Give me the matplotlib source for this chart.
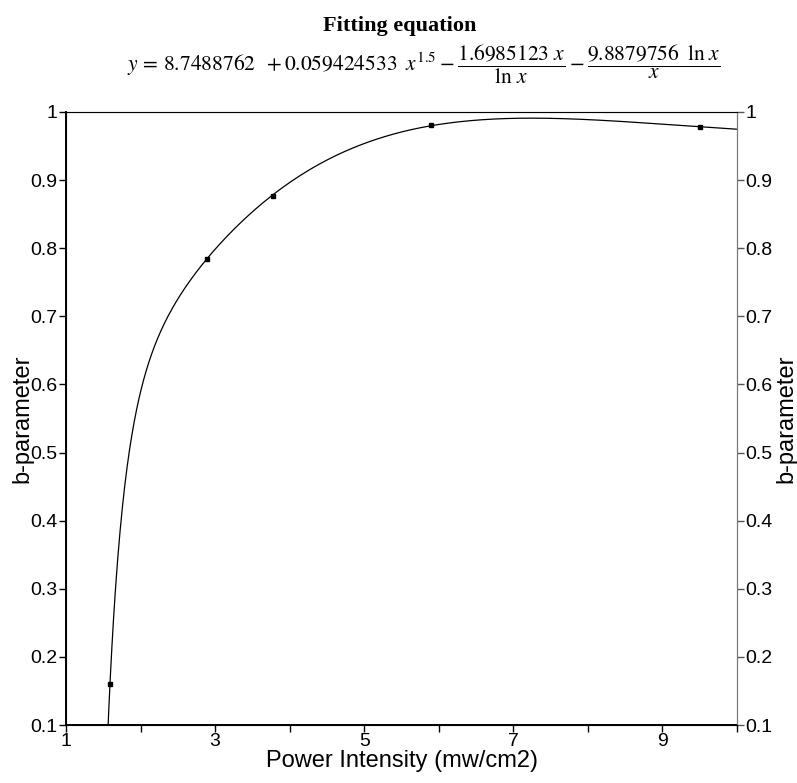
import numpy as np
import matplotlib
matplotlib.use("Agg")
import matplotlib.pyplot as plt

# measured points
x_pts = [1.59, 2.89, 3.78, 5.90, 9.51]
y_pts = [0.160, 0.784, 0.876, 0.981, 0.978]

# fitting coefficients shown in the chart
a, b, c, d = 8.7488762, 0.059424533, 1.6985123, 9.8879756

x_ticks = [1, 3, 5, 7, 9]
y_ticks = [0.1, 0.2, 0.3, 0.4, 0.5, 0.6, 0.7, 0.8, 0.9, 1]
y_labels = ["0.1", "0.2", "0.3", "0.4", "0.5", "0.6", "0.7", "0.8", "0.9", "1"]

plt.rcParams["font.family"] = ["Liberation Sans", "DejaVu Sans"]
plt.rcParams["mathtext.fontset"] = "stix"

fig = plt.figure(figsize=(7.97, 7.83), dpi=100)
ax = fig.add_axes([66 / 797, 58 / 783, 671 / 797, 613 / 783])

xc = np.linspace(1.5, 10, 800)
yc = a + b * xc**1.5 - c * xc / np.log(xc) - d * np.log(xc) / xc
ax.plot(xc, yc, color="black", lw=0.9)
ax.plot(x_pts, y_pts, "s", color="black", ms=2.5)

ax.set_xlim(1, 10)
ax.set_ylim(0.1, 1)
ax.set_xticks(x_ticks)
ax.set_xticks([2, 4, 6, 8, 10], minor=True)
ax.set_yticks(y_ticks)
ax.set_yticklabels(y_labels)
ax.tick_params(axis="both", direction="out", labelsize=14, length=5, width=1, pad=1)
ax.tick_params(axis="x", which="minor", length=5, width=1)
ax.set_xlabel("Power Intensity (mw/cm2)", fontsize=17, labelpad=0)
ax.set_ylabel("b-parameter", fontsize=17)
ax.yaxis.set_label_coords(-0.049, 0.5)

for s in ["left", "bottom"]:
    ax.spines[s].set_linewidth(1.4)
ax.spines["top"].set_color("#777777")
ax.spines["right"].set_color("#777777")

ax2 = ax.twinx()
ax2.set_ylim(0.1, 1)
ax2.set_yticks(y_ticks)
ax2.set_yticklabels(y_labels)
ax2.tick_params(axis="y", direction="out", labelsize=14, length=5, width=1, pad=1, color="#555555")
ax2.set_ylabel("b-parameter", fontsize=17)
ax2.yaxis.set_label_coords(1.0566, 0.5)
ax2.spines["right"].set_color("#777777")

fig.text(0.502, 0.967, "Fitting equation", ha="center", va="center",
         fontsize=16, fontweight="bold", family="Liberation Serif")
eq = (r"$y\,=\,8.7488762\;\;+0.059424533\;\;x^{1.5}-\dfrac{1.6985123\ x}{\ln\,x}"
      r"-\dfrac{9.8879756\;\;\ln\,x}{x}$")
fig.text(0.532, 0.918, eq, ha="center", va="center", fontsize=15.5)

fig.savefig("out.png", dpi=100)
